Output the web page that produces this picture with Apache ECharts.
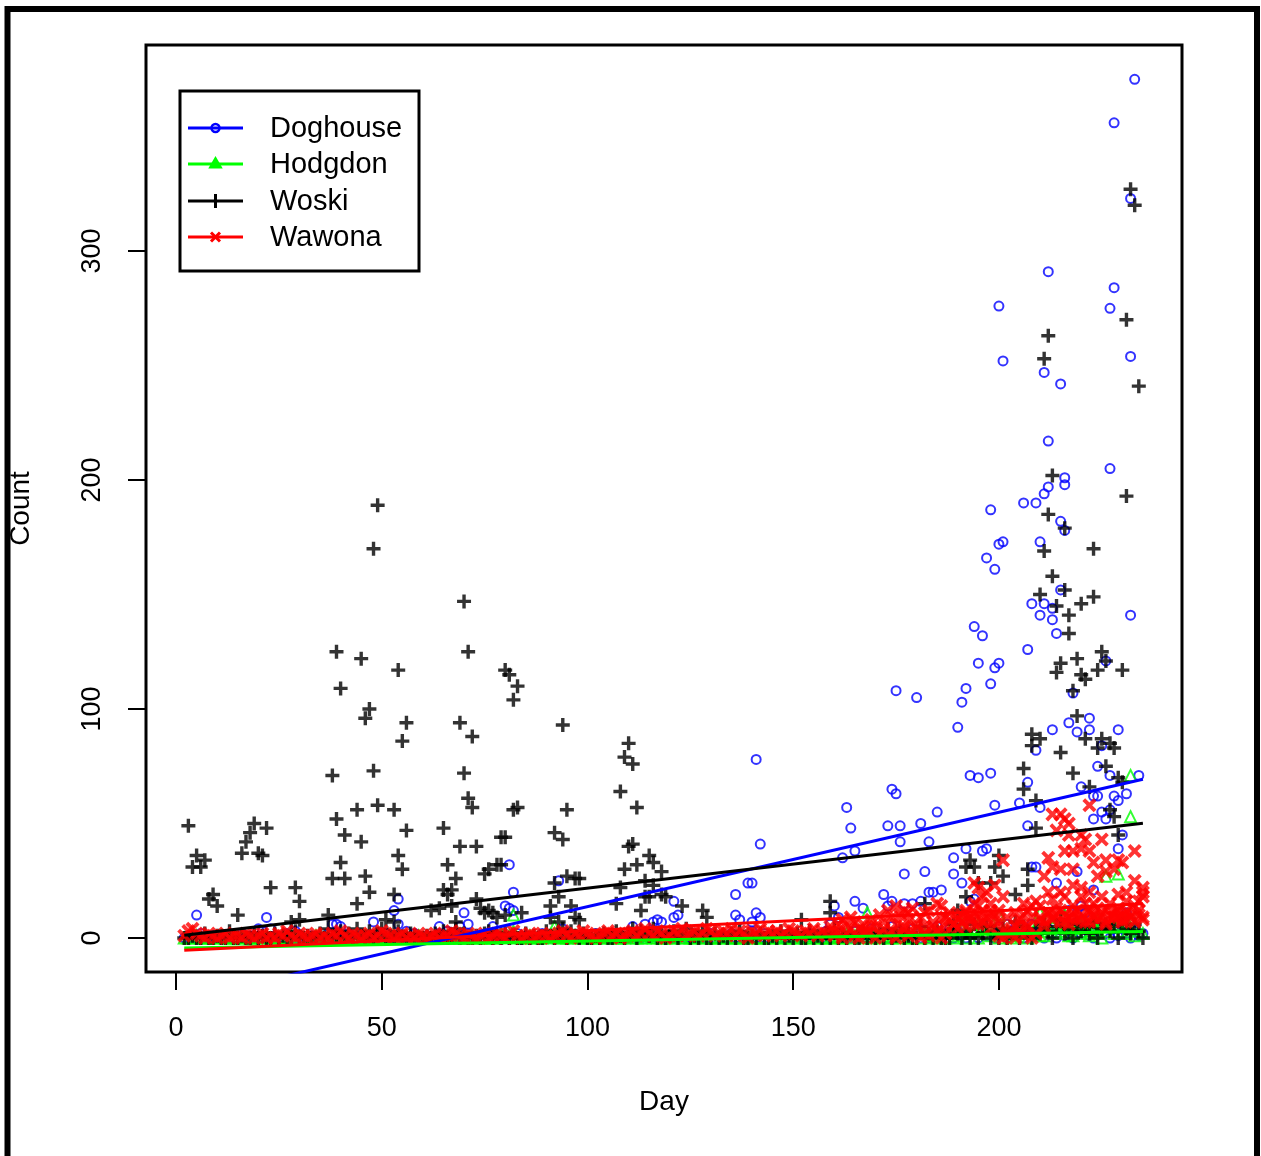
<!DOCTYPE html>
<html>
<head>
<meta charset="utf-8">
<title>Count by Day</title>
<script src="https://cdn.jsdelivr.net/npm/echarts@6/dist/echarts.min.js"></script>
<style>
  html, body { margin: 0; padding: 0; background: #fff; }
  #chart { width: 1261px; height: 1156px; }
</style>
</head>
<body>
<div id="chart"></div>
<script>
const dayTicks = [0, 50, 100, 150, 200];
const countTicks = [0, 100, 200, 300];
const sites = ['Doghouse', 'Hodgdon', 'Woski', 'Wawona'];

// low daily counts, one value per day from day 2 to day 235
const firstDay = 2;
const doghouseDaily = [
  0,1,0,0,2,0,0,1,0,0, 1,0,0,0,2,0,1,0,0,3, 0,0,1,0,0,2,0,0,1,0,
  0,1,0,0,0,2,0,1,0,0, 2,0,0,1,0,0,0,1,0,2, 0,0,1,0,0,0,2,0,0,1,
  0,0,2,0,0,1,0,0,0,2, 0,1,0,0,2,0,0,1,0,0, 0,2,0,1,0,0,0,2,0,0,
  1,0,0,2,0,0,1,0,0,0, 2,0,1,0,0,0,0,2,0,1, 0,0,1,0,2,0,0,1,0,0,
  0,2,0,0,1,0,0,0,2,0, 1,0,0,2,0,0,1,0,3,0, 0,2,0,0,1,0,0,2,0,1,
  0,0,2,0,1,0,3,0,0,2, 0,1,0,3,0,2,0,4,1,0, 2,0,5,0,3,1,0,4,2,0,
  3,0,1,5,0,2,4,0,3,1, 0,6,2,0,4,1,3,0,5,2, 0,3,1,4,0,2,6,1,3,0,
  4,2,0,5,1,3,0,7,2,4, 1,0,3,5,2,0,4,1,6,2, 0,3,1,2
];
const hodgdonDaily = [
  0,0,0,1,0,0,0,0,0,1, 0,0,0,0,1,0,0,0,0,0, 1,0,0,0,0,0,1,0,0,0,
  0,0,1,0,0,0,0,0,1,0, 0,0,0,0,1,0,0,0,0,0, 0,1,0,0,0,0,0,1,0,0,
  0,0,0,0,0,1,0,0,0,0, 1,0,0,0,0,0,0,2,0,1, 3,0,0,0,1,0,0,0,0,1,
  2,0,0,0,0,1,0,0,0,0, 0,0,1,0,0,0,0,0,1,0, 0,0,0,1,0,0,0,0,0,0,
  1,0,0,0,0,1,0,0,0,0, 0,1,0,0,0,0,0,1,0,0, 0,0,0,0,1,0,0,0,0,1,
  0,0,0,1,0,0,0,0,1,0, 0,2,0,1,3,0,1,0,2,0, 1,0,0,2,0,1,0,0,3,0,
  2,0,1,0,2,0,3,0,1,4, 0,2,3,0,5,2,1,4,0,3, 2,0,1,4,3,0,2,5,1,3,
  4,6,2,3,5,1,4,2,6,3, 1,4,2,0,3,5,2,6,3,2, 4,1,3,2
];
const woskiDaily = [
  0,0,1,0,0,2,0,0,1,0, 0,3,0,0,1,0,0,2,0,1, 0,0,2,0,1,0,0,3,0,0,
  1,0,0,2,0,4,1,0,3,0, 2,0,4,1,0,3,0,2,4,0, 1,0,3,0,0,2,1,0,0,1,
  0,2,0,3,0,1,4,0,2,0, 0,1,0,2,3,0,1,0,2,0, 1,0,0,2,0,1,0,0,3,1,
  0,2,4,0,3,1,0,2,0,0, 1,0,2,0,0,3,1,0,2,4, 0,3,2,1,4,0,2,0,1,3,
  0,2,4,0,1,0,3,0,0,2, 0,1,0,2,0,3,0,0,1,0, 2,0,0,1,0,3,0,1,0,2,
  0,0,3,0,1,0,2,0,4,0, 1,0,2,0,0,3,0,1,0,2, 0,4,0,1,3,0,2,0,0,5,
  0,2,0,3,0,1,0,4,2,0, 3,0,6,0,2,5,0,3,0,4, 0,2,7,0,5,3,0,4,2,6,
  3,0,5,8,2,4,0,6,3,5, 2,7,0,4,6,3,5,0,8,4, 2,6,3,0
];
const wawonaDaily = [
  1,3,4,2,1,0,2,1,0,1, 2,0,1,1,0,2,1,0,1,2, 0,1,0,2,1,3,1,0,2,1,
  0,1,2,0,1,0,2,1,3,1, 0,2,1,0,1,2,0,1,3,2, 1,0,1,2,0,1,0,2,1,0,
  1,2,0,1,1,3,2,1,0,2, 1,0,1,2,0,1,2,1,0,2, 3,1,0,1,2,0,1,2,1,0,
  1,2,3,1,0,2,1,3,2,1, 0,1,2,3,1,2,0,1,2,3, 1,2,4,2,1,3,2,0,1,3,
  2,4,1,2,3,1,2,4,3,1, 2,3,2,4,1,3,2,0,3,2, 4,1,3,2,3,1,2,4,3,2,
  1,3,2,4,1,3,2,5,3,6, 8,5,9,7,4,6,3,8,5,10, 7,12,9,6,10,4,8,13,6,9,
  5,12,7,3,9,5,11,6,4,7, 5,9,11,6,12,8,4,10,7,3, 9,2,11,8,10,12,9,16,8,5,
  11,9,13,7,10,6,9,12,8,15, 7,10,13,9,6,15,11,13,7,16, 10,14,12,9
];
// a second Wawona reading, days 160 to 235
const wawonaLateFrom = 160;
const wawonaLate = [
  1,3,0,2,4,1,0,3,2,5, 0,2,4,1,3,0,2,5,1,3, 4,0,2,1,5,3,0,2,8,6,
  9,7,11,8,6,10,7,9,12,8, 1,0,2,4,0,3,1,5,0,2, 9,7,11,8,10,12,7,9,11,8,
  10,7,12,9,8,11,7,10,9,12, 8,11,9,7,10,8
];

// the larger counts, [day, count]
const doghouseHigh = [
  [233,375],[228,356],[232,323],[212,291],[228,284],[227,275],[200,276],[201,252],[211,247],[215,242],
  [232,254],[212,217],[227,205],[216,201],[216,198],[212,197],[211,194],[206,190],[209,190],[198,187],
  [215,182],[216,178],[201,173],[200,172],[210,173],[197,166],[199,161],[215,152],[208,146],[211,146],
  [213,144],[210,141],[213,139],[214,133],[232,141],[194,136],[196,132],[207,126],[195,120],[200,120],
  [199,118],[198,111],[192,109],[175,108],[180,105],[191,103],[226,121],[218,107],[190,92],[222,96],
  [213,91],[217,94],[219,90],[222,91],[229,91],[209,82],[225,84],[224,75],[227,71],[234,71],
  [193,71],[195,70],[198,72],[207,68],[220,66],[174,65],[175,63],[185,55],[199,58],[205,59],
  [210,57],[223,62],[224,62],[228,62],[229,60],[231,63],[225,55],[227,56],[223,52],[226,52],
  [173,49],[176,49],[181,50],[176,42],[183,42],[207,49],[230,45],[192,39],[196,38],[197,39],
  [189,35],[229,39],[177,28],[182,29],[189,28],[191,24],[208,31],[209,31],[214,24],[219,29],
  [223,21],[172,19],[174,16],[173,14],[183,20],[184,20],[186,21],[177,15],[179,15],[181,16],
  [193,16],[194,17],[220,14],[231,11],[230,4],[202,6],[221,11],[217,12],[230,5],
  [141,78],[163,57],[164,48],[165,38],[162,35],[142,41],[139,24],[140,24],[136,19],[136,10],
  [137,8],[141,11],[142,9],[140,7],[121,16],[111,5],[114,6],[116,7],[117,8],[118,7],
  [121,9],[122,10],[165,16],[167,13],[160,14],[161,9],[159,6],[94,4],[77,5],
  [5,10],[22,9],[20,4],[23,4],[29,3],[38,6],[39,6],[40,5],[48,7],[53,12],
  [54,17],[54,6],[56,3],[70,11],[71,6],[64,5],[66,3],[69,5],[80,14],[81,13],
  [82,12],[81,32],[82,20],[93,25]
];
const hodgdonHigh = [
  [232,71],[232,53],[229,28],[226,27],[168,11],[200,10],[195,6],[196,5],[198,4],[213,7],
  [215,6],[217,6],[216,10],[218,1],[223,6],[224,8],[222,2],[231,8],[231,6],[228,9],
  [210,11],[202,3],[205,2],[82,10],[92,5],[212,9],[219,7],[221,5],[224,3],[209,4],
  [211,1],[191,6],[188,2],[184,1]
];
const woskiHigh = [
  [3,49],[5,36],[7,34],[4,31],[6,31],[9,19],[8,17],[10,14],[15,10],[16,37],
  [17,42],[18,46],[19,50],[22,48],[20,37],[21,36],[23,22],[29,22],[30,16],[28,7],
  [30,8],[37,10],[39,52],[44,56],[49,58],[53,56],[41,45],[45,42],[56,47],[40,33],
  [38,26],[41,26],[46,27],[47,20],[44,15],[54,36],[55,30],[53,19],[51,8],[53,7],
  [65,48],[71,61],[72,57],[69,40],[73,40],[66,32],[68,26],[65,21],[67,21],[66,19],
  [62,12],[64,13],[67,14],[79,44],[75,28],[76,30],[78,32],[79,32],[73,17],[74,13],
  [75,11],[76,12],[77,11],[78,9],[68,7],
  [49,189],[48,170],[70,147],[39,125],[45,122],[54,117],[71,125],[80,117],[40,109],[47,100],
  [46,96],[56,94],[55,86],[69,94],[72,88],[38,71],[48,73],[70,72],[81,115],[83,110],
  [82,104],[94,93],[110,85],[109,79],[111,76],[108,64],
  [82,56],[83,57],[80,44],[95,56],[92,46],[94,43],[112,57],[110,40],[111,41],[109,30],
  [112,32],[115,36],[116,33],[118,29],[108,22],[107,15],[114,25],[116,23],[114,18],[115,18],
  [113,12],[118,19],[119,18],[123,14],[91,14],[91,9],[93,7],[96,14],[97,9],[98,8],
  [92,24],[93,18],[95,27],[97,26],[98,26],[84,11],[80,10],[128,12],[129,9],[152,8],
  [159,16],[159,11],
  [232,327],[233,320],[231,270],[212,263],[211,253],[234,241],[213,202],[231,193],[212,185],[216,179],
  [211,169],[223,170],[213,158],[216,152],[210,150],[223,149],[220,146],[214,145],[217,141],[217,133],
  [225,125],[219,122],[215,120],[226,121],[224,117],[230,117],[214,116],[220,115],[221,113],[218,108],
  [219,97],[208,89],[210,87],[208,84],[221,87],[225,87],[227,85],[228,83],[224,83],[215,81],
  [206,74],[218,72],[226,75],[229,70],[206,65],[209,60],[209,48],[222,66],[230,68],[227,56],
  [228,53],[229,45],[193,34],[192,31],[194,31],[199,31],[200,36],[201,27],[207,30],[207,23],
  [204,19],[198,24],[195,24],[192,18],[182,15],[190,12],[189,6],[178,1],[177,1],[187,0]
];
const wawonaHigh = [
  [213,54],[215,54],[216,52],[217,50],[222,58],[214,47],[220,45],[221,43],[225,43],[217,45],
  [233,38],[216,38],[218,38],[220,39],[222,38],[212,35],[201,34],[223,33],[226,34],[229,34],
  [230,33],[213,31],[215,30],[218,30],[211,27],[224,27],[226,29],[228,30],[194,24],[195,22],
  [199,23],[233,25],[235,22],[235,18],[212,20],[215,20],[218,23],[220,22],[222,20],[225,18],
  [229,19],[231,20],[197,20],[196,18],[201,18],[175,14],[177,12],[178,11],[182,11],[185,15],
  [186,14],[187,9],[191,10],[192,12],[194,15],[195,14],[198,15],[200,12],[206,15],[208,14],
  [210,14],[205,6],[204,5],[207,5],[218,14],[222,11],[226,12],[229,9],[220,18],[223,15],
  [216,18],[213,17],[228,9],[231,8],[231,12],[234,16],[235,20]
];

// fitted lines, [day, count] at the two ends
const doghouseFit = [[2, -26.7], [235, 69.3]];
const hodgdonFit = [[2, -4.4], [235, 2.8]];
const woskiFit = [[2, 1.2], [235, 50.1]];
const wawonaFit = [[2, -5.4], [235, 15]];

const colors = ['#0000ff', '#00ff00', '#000000', '#ff0000'];
const font = '"Liberation Sans", Arial, Helvetica, sans-serif';
const plusPath = 'path://M5.3,0H8.7V5.3H14V8.7H8.7V14H5.3V8.7H0V5.3H5.3Z';

function daily(vals, from) {
  return vals.map((v, i) => [from + i, v]);
}

const points = [
  daily(doghouseDaily, firstDay).concat(doghouseHigh),
  daily(hodgdonDaily, firstDay).concat(hodgdonHigh),
  daily(woskiDaily, firstDay).concat(woskiHigh),
  daily(wawonaDaily, firstDay).concat(daily(wawonaLate, wawonaLateFrom), wawonaHigh)
];
const fits = [doghouseFit, hodgdonFit, woskiFit, wawonaFit];

const markers = [
  { symbol: 'circle', symbolSize: 9, itemStyle: { color: 'rgba(0,0,0,0)', borderColor: colors[0], borderWidth: 2 } },
  { symbol: 'triangle', symbolSize: 11, itemStyle: { color: 'rgba(0,0,0,0)', borderColor: colors[1], borderWidth: 2 } },
  { symbol: plusPath, symbolSize: 14, itemStyle: { color: colors[2] } },
  { symbol: plusPath, symbolSize: 16, symbolRotate: 45, itemStyle: { color: colors[3] } }
];

const series = [];
sites.forEach((name, i) => {
  series.push(Object.assign({
    name: name,
    type: 'scatter',
    data: points[i],
    silent: true,
    animation: false
  }, markers[i]));
});
sites.forEach((name, i) => {
  series.push({
    name: name + ' fit',
    type: 'line',
    data: fits[i],
    symbol: 'none',
    silent: true,
    clip: true,
    z: 5,
    lineStyle: { color: colors[i], width: 3 }
  });
});

// hand drawn legend, as in the original
const legendY = [128, 164, 201, 237];
const legend = [
  { type: 'rect', shape: { x: 180, y: 91, width: 239, height: 180 },
    style: { fill: '#fff', stroke: '#000', lineWidth: 3 } }
];
sites.forEach((name, i) => {
  const y = legendY[i];
  legend.push({ type: 'line', shape: { x1: 188, y1: y, x2: 243, y2: y },
    style: { stroke: colors[i], lineWidth: 3 } });
  legend.push({ type: 'text', x: 270, y: y + 1,
    style: { text: name, font: '29px ' + font, fill: '#000', textVerticalAlign: 'middle' } });
});
legend.push({ type: 'circle', shape: { cx: 215.5, cy: 128, r: 4 },
  style: { fill: 'rgba(0,0,0,0)', stroke: colors[0], lineWidth: 2.5 } });
legend.push({ type: 'polygon', shape: { points: [[215.5, 158], [221, 167.5], [210, 167.5]] },
  style: { fill: colors[1], stroke: colors[1], lineWidth: 2 } });
legend.push({ type: 'line', shape: { x1: 215.5, y1: 194, x2: 215.5, y2: 208 },
  style: { stroke: colors[2], lineWidth: 3 } });
legend.push({ type: 'line', shape: { x1: 211, y1: 232.5, x2: 220, y2: 241.5 },
  style: { stroke: colors[3], lineWidth: 3 } });
legend.push({ type: 'line', shape: { x1: 220, y1: 232.5, x2: 211, y2: 241.5 },
  style: { stroke: colors[3], lineWidth: 3 } });

const option = {
  backgroundColor: '#fff',
  animation: false,
  textStyle: { fontFamily: font },
  grid: {
    left: 146, top: 45, width: 1036, height: 927,
    outerBoundsMode: 'none', containLabel: false,
    show: true, borderColor: '#000', borderWidth: 3, backgroundColor: 'rgba(0,0,0,0)'
  },
  xAxis: {
    type: 'value', min: -7.3, max: 244.5,
    name: 'Day', nameLocation: 'middle', nameGap: 116,
    nameTextStyle: { fontSize: 28, color: '#000', fontFamily: font },
    axisLine: { show: false, onZero: false },
    splitLine: { show: false },
    axisTick: { show: true, customValues: dayTicks, length: 18, lineStyle: { color: '#000', width: 2 } },
    axisLabel: { customValues: dayTicks, fontSize: 27, color: '#000', margin: 43, fontFamily: font }
  },
  yAxis: {
    type: 'value', min: -14.85, max: 390,
    name: 'Count', nameLocation: 'middle', nameGap: 111, nameRotate: 90,
    nameTextStyle: { fontSize: 28, color: '#000', fontFamily: font },
    axisLine: { show: false, onZero: false },
    splitLine: { show: false },
    axisTick: { show: true, customValues: countTicks, length: 18, lineStyle: { color: '#000', width: 2 } },
    axisLabel: { customValues: countTicks, fontSize: 27, color: '#000', margin: 40, rotate: 90, fontFamily: font }
  },
  graphic: legend.concat([
    { type: 'rect', z: 100, shape: { x: 7.5, y: 9, width: 1249.5, height: 1160 },
      style: { fill: 'rgba(0,0,0,0)', stroke: '#000', lineWidth: 6 } }
  ]),
  series: series
};

const chart = echarts.init(document.getElementById('chart'), null, { renderer: 'canvas' });
chart.setOption(option);
</script>
</body>
</html>
